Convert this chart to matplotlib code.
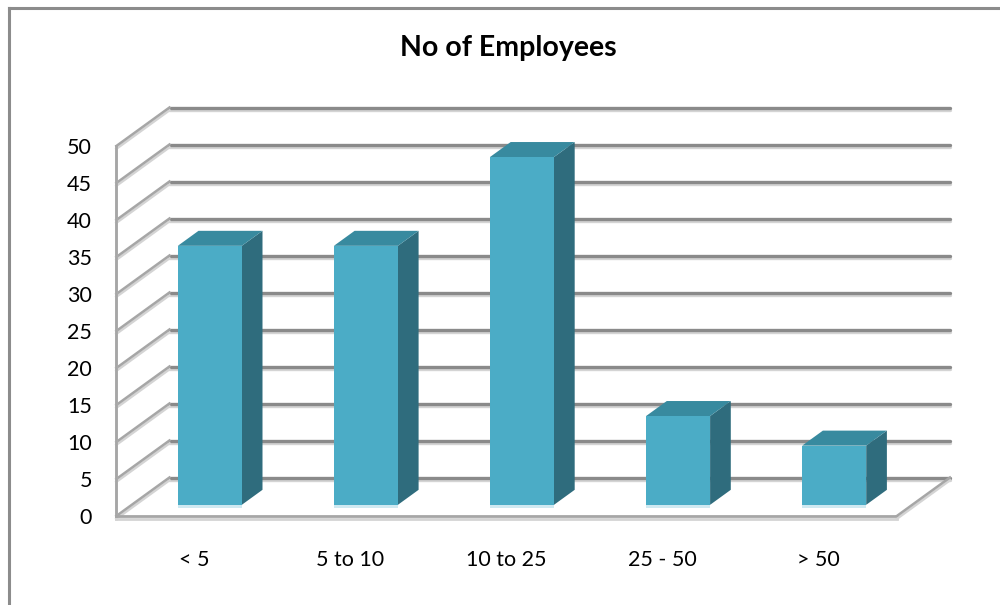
import matplotlib
matplotlib.use('Agg')
import matplotlib.pyplot as plt
import matplotlib.patheffects as pe
from matplotlib.lines import Line2D

plt.rcParams['font.family'] = ['Lato', 'DejaVu Sans']

categories = ['< 5', '5 to 10', '10 to 25', '25 - 50', '> 50']
values = [35, 35, 47, 12, 8]
yticks = [0, 5, 10, 15, 20, 25, 30, 35, 40, 45, 50]
title = 'No of Employees'

# oblique "3d" look: depth of the walls in data units
depth_x, depth_y = 0.34, 5.2
bar_front, bar_back = 0.29, 0.68
bar_w = 0.41

face_col = '#4bacc6'
top_col = '#388a9f'
side_col = '#2f6c7d'

fig = plt.figure(figsize=(10, 6.05), dpi=100)
ax = fig.add_axes([0, 0, 1, 1])
ax.set_xlim(-1.2454, 5.1608)
ax.set_ylim(-12.03, 69.73)
ax.axis('off')

grid_fx = [pe.SimpleLineShadow(offset=(0, -2), shadow_color='#d4d4d4', alpha=1), pe.Normal()]
x0, x1 = -0.5, len(categories) - 0.5

# back wall gridlines + left wall diagonals
for v in yticks:
    ax.plot([x0 + depth_x, x1 + depth_x], [v + depth_y, v + depth_y], color='#8a8a8a',
            lw=2.4, solid_capstyle='round', path_effects=grid_fx, zorder=1)
    ax.plot([x0, x0 + depth_x], [v, v + depth_y], color='#a6a6a6', lw=1.8,
            path_effects=grid_fx, zorder=1)

# left wall front edge and floor edges
ax.plot([x0, x0], [0, yticks[-1]], color='#a6a6a6', lw=2, path_effects=grid_fx, zorder=1)
ax.plot([x0, x1], [0, 0], color='#a6a6a6', lw=2, path_effects=grid_fx, zorder=1)
ax.plot([x1, x1 + depth_x], [0, depth_y], color='#a6a6a6', lw=1.8, path_effects=grid_fx, zorder=1)

# bars
fx, fy = bar_front * depth_x, bar_front * depth_y
bx, by = bar_back * depth_x, bar_back * depth_y
for i, v in enumerate(values):
    l = i - bar_w / 2 + fx
    r = i + bar_w / 2 + fx
    b = fy
    t = fy + v
    dx, dy = bx - fx, by - fy
    ax.fill([l, r, r, l], [b - 0.45, b - 0.45, b, b], color='#cfe9f1', lw=0, zorder=2)
    ax.fill([r, r + dx, r + dx, r], [b, b + dy, t + dy, t], color=side_col, lw=0, zorder=3)
    ax.fill([l, r, r + dx, l + dx], [t, t, t + dy, t + dy], color=top_col, lw=0, zorder=3)
    ax.fill([l, r, r, l], [b, b, t, t], color=face_col, lw=0, zorder=4)

for v in yticks:
    ax.text(-0.656, v - 0.3, str(v), ha='right', va='center', fontsize=15.5, color='#000000')

for i, c in enumerate(categories):
    ax.text(i, -5.95, c, ha='center', va='center', fontsize=15.5, color='#000000')

fig.text(0.508, 1 - 48 / 605, title, ha='center', va='center', fontsize=20.5, fontweight='bold')

# chart border (left and top only visible)
fig.add_artist(Line2D([8.5 / 1000, 8.5 / 1000], [0, 1 - 7.5 / 605], color='#8c8c8c', lw=2.2,
                      transform=fig.transFigure))
fig.add_artist(Line2D([8.5 / 1000, 1], [1 - 7.5 / 605, 1 - 7.5 / 605], color='#8c8c8c', lw=2.2,
                      transform=fig.transFigure))

fig.savefig('out.png', dpi=100)
